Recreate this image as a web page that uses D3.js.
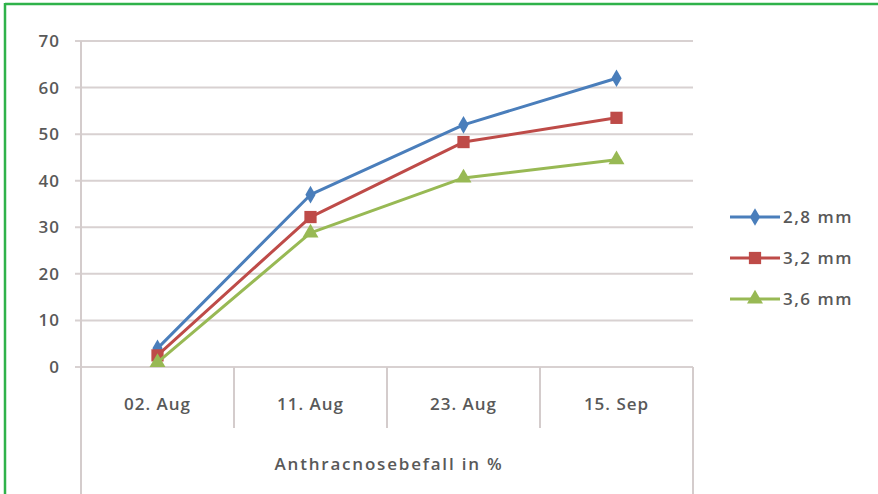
<!DOCTYPE html>
<html>
<head>
<meta charset="utf-8">
<script src="https://cdn.jsdelivr.net/npm/d3@7/dist/d3.min.js"></script>
<style>
  html, body { margin: 0; padding: 0; background: #fff; }
  svg { display: block; }
  text { font-family: "Open Sans", "DejaVu Sans", sans-serif; fill: #595959; font-weight: 600; }
</style>
</head>
<body>
<div id="chart"></div>
<script>
// Sampling dates and infection share per seed size
const categories = ["02. Aug", "11. Aug", "23. Aug", "15. Sep"];
const seriesNames = ["2,8 mm", "3,2 mm", "3,6 mm"];
const values28 = [4, 37, 52, 62];
const values32 = [2.5, 32.2, 48.3, 53.5];
const values36 = [1, 28.8, 40.6, 44.5];
const yTicks = [0, 10, 20, 30, 40, 50, 60, 70];
const axisTitle = "Anthracnosebefall in %";

const colors = ["#4a7ebb", "#be4b48", "#98b954"];
const seriesValues = [values28, values32, values36];

const W = 878, H = 494;
const plotLeft = 81, plotRight = 693, plotTop = 41, plotBottom = 367;

const svg = d3.select("#chart").append("svg").attr("width", W).attr("height", H);

// green frame (top and left edges)
svg.append("line").attr("x1", 5).attr("x2", W).attr("y1", 4).attr("y2", 4)
  .attr("stroke", "#2fb24a").attr("stroke-width", 2.5);
svg.append("line").attr("x1", 5).attr("x2", 5).attr("y1", 3).attr("y2", H)
  .attr("stroke", "#2fb24a").attr("stroke-width", 2.5);

const x = d3.scaleBand().domain(categories).range([plotLeft, plotRight]);
const y = d3.scaleLinear().domain([0, 70]).range([plotBottom, plotTop]);

// horizontal gridlines
svg.append("g").selectAll("line").data(yTicks).join("line")
  .attr("x1", plotLeft - 6).attr("x2", plotRight)
  .attr("y1", d => y(d)).attr("y2", d => y(d))
  .attr("stroke", "#d8d1d1").attr("stroke-width", 2);

// y axis labels
svg.append("g").selectAll("text").data(yTicks).join("text")
  .attr("x", 60).attr("y", d => y(d)).attr("dy", "0.35em")
  .attr("text-anchor", "end").attr("font-size", 17)
  .attr("letter-spacing", 1).text(d => d);

// axis frame: left axis, right edge and category separators
svg.append("line").attr("x1", plotLeft).attr("x2", plotLeft).attr("y1", plotTop).attr("y2", H)
  .attr("stroke", "#d4cccc").attr("stroke-width", 2);
svg.append("line").attr("x1", plotRight).attr("x2", plotRight).attr("y1", plotBottom).attr("y2", H)
  .attr("stroke", "#d4cccc").attr("stroke-width", 2);
svg.append("g").selectAll("line").data(categories.slice(1)).join("line")
  .attr("x1", d => x(d)).attr("x2", d => x(d))
  .attr("y1", plotBottom).attr("y2", 428)
  .attr("stroke", "#d4cccc").attr("stroke-width", 2);

// category labels
svg.append("g").selectAll("text").data(categories).join("text")
  .attr("x", d => x(d) + x.bandwidth() / 2).attr("y", 410)
  .attr("text-anchor", "middle").attr("font-size", 17)
  .attr("letter-spacing", 1).text(d => d);

svg.append("text").attr("x", 389).attr("y", 470)
  .attr("text-anchor", "middle").attr("font-size", 17)
  .attr("letter-spacing", 1.8).text(axisTitle);

const line = d3.line()
  .x((d, i) => x(categories[i]) + x.bandwidth() / 2)
  .y(d => y(d));

const markers = [
  d3.symbol().type(d3.symbolDiamond).size(90),
  d3.symbol().type(d3.symbolSquare).size(150),
  d3.symbol().type(d3.symbolTriangle).size(110)
];

seriesValues.forEach((vals, s) => {
  svg.append("path").datum(vals)
    .attr("d", line).attr("fill", "none")
    .attr("stroke", colors[s]).attr("stroke-width", 3)
    .attr("stroke-linejoin", "round");
  svg.append("g").selectAll("path").data(vals).join("path")
    .attr("d", markers[s])
    .attr("transform", (d, i) => `translate(${x(categories[i]) + x.bandwidth() / 2},${y(d)})`)
    .attr("fill", colors[s]);
});

// legend
const legendY = [217, 258, 299];
seriesNames.forEach((name, s) => {
  const g = svg.append("g").attr("transform", `translate(730,${legendY[s]})`);
  g.append("line").attr("x1", 0).attr("x2", 50).attr("y1", 0).attr("y2", 0)
    .attr("stroke", colors[s]).attr("stroke-width", 3);
  g.append("path").attr("d", markers[s]).attr("transform", "translate(25,0)")
    .attr("fill", colors[s]);
  g.append("text").attr("x", 53).attr("y", 0).attr("dy", "0.35em")
    .attr("font-size", 17).attr("letter-spacing", 1.5).text(name);
});
</script>
</body>
</html>
